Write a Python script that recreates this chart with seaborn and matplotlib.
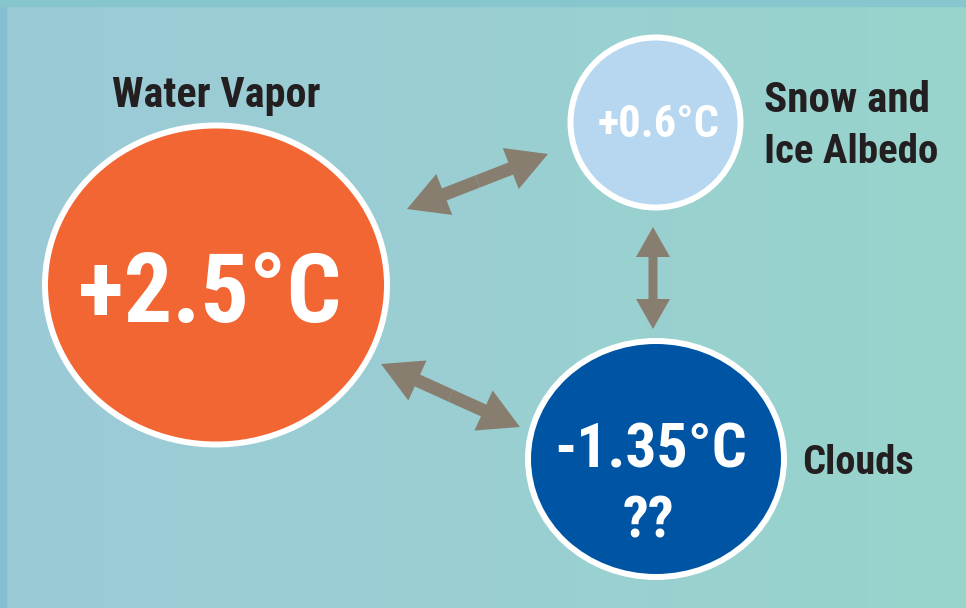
import numpy as np
import matplotlib.pyplot as plt
import seaborn as sns
from matplotlib import font_manager as fm
from matplotlib.patches import Ellipse, FancyArrow, Rectangle

# feedback nodes
names = ['Water Vapor', 'Snow and\nIce Albedo', 'Clouds']
values = ['+2.5°C', '+0.6°C', '-1.35°C']
notes = ['', '', '??']
links = [(0, 1), (0, 2), (1, 2)]

# layout (pixels)
cx = [216, 655.5, 656]
cy = [285, 122.5, 459]
w = [342, 170, 256]
h = [319, 170, 236]
fills = ['#f26633', '#b7d6ef', '#0054a4']
val_x = [210, 659, 651]
val_y = [322, 137, 467]
val_size = [72, 33, 52]
val_w = [263, 122, 193]
lab_x = [216, 764, 802]
lab_y = [107, 112, 474]
lab_ha = ['center', 'left', 'left']
lab_w = [[208], [166, 175], [112]]
arrow_ends = [((407, 209), (548, 154)), ((381, 364), (520, 427)), ((653, 227), (653, 329))]
arrow_dims = [(13, 44, 40), (13, 44, 40), (9, 34, 30)]

sns.set_theme(style='white')
avail = {f.name for f in fm.fontManager.ttflist}
family = 'Roboto'
for cand in ['Liberation Sans Narrow', 'DejaVu Sans Condensed', 'Roboto Condensed',
             'Open Sans Condensed', 'Noto Sans Condensed', 'Lato']:
    if cand in avail:
        family = cand
        break
plt.rcParams['font.family'] = [family, 'DejaVu Sans']

fig = plt.figure(figsize=(9.66, 6.08), dpi=100)
ax = fig.add_axes([0, 0, 1, 1])
ax.set_xlim(0, 966)
ax.set_ylim(608, 0)
ax.axis('off')
renderer = fig.canvas.get_renderer()


def fit_text(x, y, s, target_w, size, **kw):
    t = ax.text(x, y, s, va='baseline', fontsize=size, fontweight='bold',
                fontstretch='condensed', **kw)
    bw = t.get_window_extent(renderer).width
    if bw > target_w:
        t.set_fontsize(size * target_w / bw)
    return t


# background gradient + border
left = np.array([156, 202, 216]) / 255
right = np.array([152, 212, 204]) / 255
g = np.linspace(0, 1, 256)[None, :, None]
grad = left * (1 - g) + right * g
ax.imshow(grad, extent=(0, 966, 608, 0), aspect='auto', zorder=0)
ax.add_patch(Rectangle((0, 0), 6, 608, color='#86bfd2', zorder=1))
ax.add_patch(Rectangle((0, 0), 966, 6, color='#86c6cc', zorder=1))

# arrows
for ((x0, y0), (x1, y1)), (sw, hw, hl) in zip(arrow_ends, arrow_dims):
    mx, my = (x0 + x1) / 2, (y0 + y1) / 2
    for ex, ey in [(x0, y0), (x1, y1)]:
        ax.add_patch(FancyArrow(mx, my, ex - mx, ey - my, width=sw, head_width=hw,
                                head_length=hl, length_includes_head=True,
                                color='#887e70', lw=0, zorder=2))

# circles and labels
for i in range(len(names)):
    ax.add_patch(Ellipse((cx[i], cy[i]), w[i], h[i], facecolor=fills[i],
                         edgecolor='white', lw=4.3, zorder=3))
    fit_text(val_x[i], val_y[i], values[i], val_w[i], val_size[i],
             ha='center', color='white', zorder=4)
    if notes[i]:
        fit_text(648, 538, notes[i], 52, 50, ha='center', color='white', zorder=4)
    for j, line in enumerate(names[i].split('\n')):
        fit_text(lab_x[i], lab_y[i] + 51 * j, line, lab_w[i][j], 36,
                 ha=lab_ha[i], color='#231f20')

fig.savefig('out.png', dpi=100)
